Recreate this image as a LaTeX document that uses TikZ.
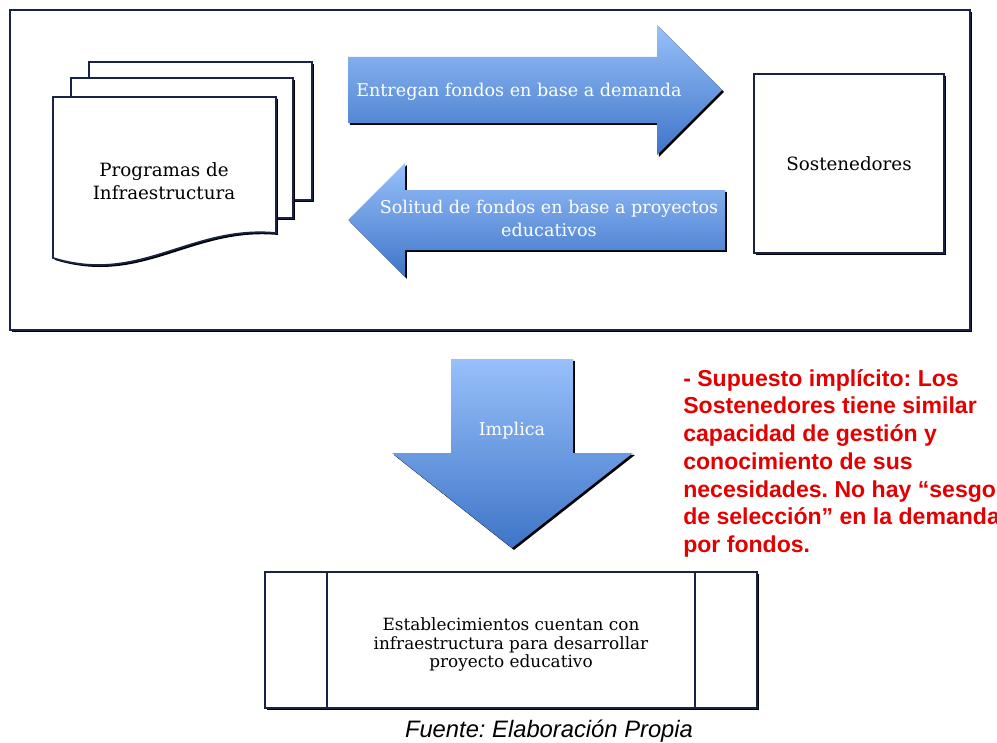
\documentclass[tikz,border=0pt]{standalone}
\usepackage{fontspec}
\usepackage{tikz}
\usetikzlibrary{shadows}
\newfontfamily\boxfont{DejaVu Serif}
\newfontfamily\notefont{Liberation Sans}
\definecolor{framenavy}{RGB}{25,35,70}
\definecolor{arrowtop}{RGB}{152,192,250}
\definecolor{arrowbot}{RGB}{62,117,200}
\definecolor{notered}{RGB}{226,0,0}
\frenchspacing

\begin{document}
\begin{tikzpicture}[x=0.025cm, y=-0.025cm,
		dshadow/.style={drop shadow={shadow xshift=1.4pt, shadow yshift=-1.4pt, fill=black, opacity=1}},
		box/.style={draw=framenavy, line width=1.2pt, fill=white, dshadow},
		blockarrow/.style={top color=arrowtop, bottom color=arrowbot, dshadow},
		boxtext/.style={font=\boxfont\fontsize{13pt}{16.4pt}\selectfont, align=center},
		arrowtext/.style={font=\boxfont\fontsize{12.5pt}{16.4pt}\selectfont, text=white, align=center}]
			\useasboundingbox (0,0) rectangle (997,742);
			% marco superior
			\draw[box] (10,10) rectangle (970,330);
			% programas (documento multiple)
			\draw[box] (89,62) rectangle (312,200);
			\draw[box] (71,78) rectangle (293,218);
			\draw[box] (53,97) -- (276,97) -- (276,233) .. controls (190,225) and (140,285) .. (53,258) -- cycle;
			\node[boxtext] (prog) at (164,181) {Programas de\\Infraestructura};
			% sostenedores
			\node[box, boxtext, minimum width=4.75cm, minimum height=4.475cm] (sost) at (849,163.5) {Sostenedores};
			% flechas
			\path[blockarrow] (348,57) -- (657,57) -- (657,25) -- (722,90) -- (657,155) -- (657,123) -- (348,123) -- cycle;
			\node[arrowtext] (entrega) at (519,92) {Entregan fondos en base a demanda};
			\path[blockarrow] (348,220) -- (405,163) -- (405,190) -- (725,190) -- (725,250) -- (405,250) -- (405,277) -- cycle;
			\node[arrowtext] (solicita) at (549,218.5) {Solitud de fondos en base a proyectos\\educativos};
			\path[blockarrow] (451,359) -- (573,359) -- (573,453) -- (633,453) -- (512,548) -- (392,453) -- (451,453) -- cycle;
			\node[arrowtext] (implica) at (512,431) {Implica};
			% establecimientos
			\node[box, minimum width=12.3cm, minimum height=3.4cm] (estab) at (511,640) {};
			\draw[framenavy, line width=1.2pt] ([xshift=1.575cm]estab.north west) -- ([xshift=1.575cm]estab.south west);
			\draw[framenavy, line width=1.2pt] ([xshift=-1.575cm]estab.north east) -- ([xshift=-1.575cm]estab.south east);
			\node[font=\boxfont\fontsize{12pt}{13.2pt}\selectfont, align=center] (estabtxt) at (511,644.5) {Establecimientos cuentan con\\infraestructura para desarrollar\\proyecto educativo};
			% supuesto
			\node[anchor=north west, inner sep=0pt, align=left, text=notered, font=\notefont\bfseries\fontsize{16.4pt}{19.7pt}\selectfont] (supuesto) at (683,369) {- Supuesto implícito: Los\\Sostenedores tiene similar\\capacidad de gestión y\\conocimiento de sus\\necesidades. No hay “sesgo\\de selección” en la demanda\\por fondos.};
			% fuente
			\node[font=\notefont\itshape\fontsize{16.9pt}{20pt}\selectfont] (fuente) at (549,731) {Fuente: Elaboración Propia};
		\end{tikzpicture}
\end{document}
